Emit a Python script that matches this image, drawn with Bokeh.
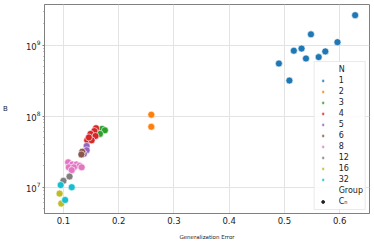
from bokeh.plotting import figure
from bokeh.models import Range1d, Legend, LegendItem, ColumnDataSource, FixedTicker
from bokeh.embed import file_html
from bokeh.resources import INLINE

# Data: (generalization error, B) per group N
n_labels = ["1", "2", "3", "4", "5", "6", "8", "12", "16", "32"]
colors = ["#1f77b4", "#ff7f0e", "#2ca02c", "#d62728", "#9467bd",
          "#8c564b", "#e377c2", "#7f7f7f", "#bcbd22", "#17becf"]

err_1 = [0.628, 0.548, 0.596, 0.517, 0.531, 0.574, 0.539, 0.562, 0.490, 0.509]
logb_1 = [9.42, 9.15, 9.04, 8.92, 8.95, 8.91, 8.81, 8.83, 8.74, 8.50]
err_2 = [0.259, 0.259]
logb_2 = [8.02, 7.85]
err_3 = [0.170, 0.175, 0.166]
logb_3 = [7.82, 7.80, 7.75]
err_4 = [0.159, 0.156, 0.149, 0.158, 0.143, 0.151, 0.146]
logb_4 = [7.83, 7.79, 7.75, 7.72, 7.66, 7.66, 7.70]
err_5 = [0.142, 0.142, 0.137]
logb_5 = [7.58, 7.52, 7.47]
err_6 = [0.134, 0.1325]
logb_6 = [7.50, 7.46]
err_8 = [0.1085, 0.116, 0.1235, 0.129, 0.133, 0.1096, 0.119, 0.115]
logb_8 = [7.35, 7.32, 7.32, 7.30, 7.28, 7.28, 7.28, 7.24]
err_12 = [0.100, 0.111]
logb_12 = [7.09, 7.15]
err_16 = [0.093, 0.096]
logb_16 = [6.91, 6.77]
err_32 = [0.095, 0.115, 0.103]
logb_32 = [7.03, 7.00, 6.82]

groups = [(err_1, logb_1), (err_2, logb_2), (err_3, logb_3), (err_4, logb_4),
          (err_5, logb_5), (err_6, logb_6), (err_8, logb_8), (err_12, logb_12),
          (err_16, logb_16), (err_32, logb_32)]

x_ticks = [0.1, 0.2, 0.3, 0.4, 0.5, 0.6]

FONT = "DejaVu Sans"
NAN = float("nan")

p = figure(width=372, height=242, output_backend="svg", toolbar_location=None,
           y_axis_type="log",
           x_range=Range1d(0.0657, 0.654),
           y_range=Range1d(10 ** 6.63, 10 ** 9.57),
           min_border_left=43, min_border_right=3, min_border_top=4,
           min_border_bottom=26)
p.background_fill_color = "white"
p.outline_line_color = "#808080"
p.outline_line_width = 1

p.xgrid.grid_line_color = "#e3e3e3"
p.ygrid.grid_line_color = "#e3e3e3"
p.xaxis.ticker = FixedTicker(ticks=x_ticks)
p.yaxis.ticker.num_minor_ticks = 10

for ax in (p.xaxis[0], p.yaxis[0]):
    ax.axis_line_color = "#808080"
    ax.major_tick_line_color = "#808080"
    ax.minor_tick_line_color = "#808080"
    ax.major_label_text_font = FONT
    ax.major_label_text_font_size = "8.5px"
    ax.major_label_text_color = "#222222"
    ax.axis_label_text_font = FONT
    ax.axis_label_text_font_style = "normal"
    ax.axis_label_text_color = "#222222"

p.xaxis.major_tick_out = 0
p.xaxis.major_tick_in = 0
p.xaxis.minor_tick_out = 0
p.xaxis.major_label_standoff = 3
p.xaxis.axis_label = "Generalization Error"
p.xaxis.axis_label_text_font_size = "5.5px"
p.xaxis.axis_label_standoff = 7

p.yaxis.major_tick_out = 2
p.yaxis.major_tick_in = 0
p.yaxis.minor_tick_out = 1
p.yaxis.minor_tick_in = 0
p.yaxis.major_label_standoff = 2
p.yaxis.axis_label = "B"
p.yaxis.axis_label_orientation = "horizontal"
p.yaxis.axis_label_text_font_size = "7px"
p.yaxis.axis_label_standoff = 15

items = []
title_r = p.scatter(x=[NAN], y=[NAN], size=0, fill_alpha=0, line_alpha=0)
items.append(LegendItem(label="N", renderers=[title_r]))
for (ex, lb), lab, col in zip(groups, n_labels, colors):
    src = ColumnDataSource(dict(x=ex, y=[10 ** v for v in lb]))
    r = p.scatter("x", "y", source=src, size=7, fill_color=col, line_color="white",
                  line_width=0.6)
    items.append(LegendItem(label=lab, renderers=[r]))
group_r = p.scatter(x=[NAN], y=[NAN], size=0, fill_alpha=0, line_alpha=0)
items.append(LegendItem(label="Group", renderers=[group_r]))
cn_r = p.scatter(x=[NAN], y=[NAN], size=3, fill_color="#222222", line_color="#222222")
items.append(LegendItem(label="Cₙ", renderers=[cn_r]))

legend = Legend(items=items, location="bottom_right")
legend.margin = 3
legend.padding = 2
legend.spacing = 0
legend.glyph_height = 7
legend.glyph_width = 12
legend.label_height = 11
legend.label_standoff = 10
legend.label_text_font = FONT
legend.label_text_font_size = "8px"
legend.label_text_color = "#222222"
legend.border_line_color = "#d6d6d6"
legend.border_line_width = 1
legend.background_fill_alpha = 0.85
p.add_layout(legend, "center")

open("out.html", "w").write(file_html(p, INLINE))
